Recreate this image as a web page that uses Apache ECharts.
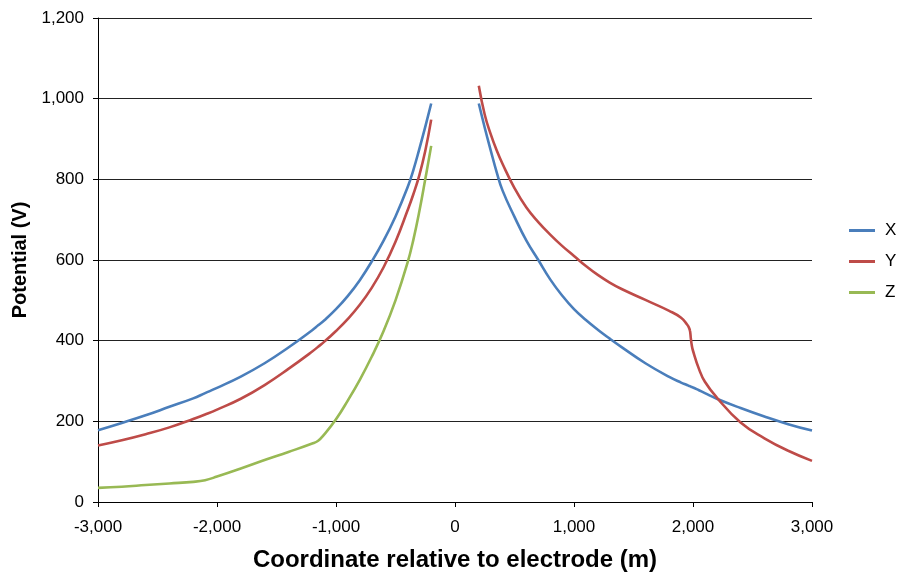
<!DOCTYPE html>
<html lang="en">
<head>
    <meta charset="UTF-8">
    <title>Potential</title>
    <script type="text/javascript" src="https://cdn.jsdelivr.net/npm/echarts@6/dist/echarts.min.js"></script>
    <style>
        body { margin: 0; background: #fff; }
    </style>
</head>
<body>
<div id="main" style="width: 901px;height:579px;"></div>
<script type="text/javascript">
    // sample positions (m), left and right of the electrode
    var xLeft = [-3000, -2800, -2600, -2400, -2200, -2100, -2000, -1800, -1600, -1400, -1200, -1150, -1100,
        -1000, -900, -800, -700, -600, -500, -400, -350, -300, -250, -200];
    var xRight = [200, 250, 300, 350, 400, 500, 600, 700, 800, 900, 1000, 1100, 1200, 1300, 1400, 1600, 1800, 1900,
        1950, 1965, 1975, 1982, 1990, 2000, 2050, 2100, 2200, 2400, 2600, 2800, 3000];

    // potential (V)
    var xLeftV = [178, 196, 215, 236, 257, 270, 283, 311, 344, 383, 426, 438, 450,
        478, 511, 550, 596, 648, 708, 779, 823, 875, 930, 988];
    var xRightV = [988, 928, 872, 818, 772, 707, 648, 600, 552, 512, 478, 451, 427, 405, 384, 344, 310, 296,
        290, 288, 287, 286, 285, 284, 277, 270, 256, 233, 212, 193, 177];
    var yLeftV = [140, 153, 168, 185, 206, 217, 229, 256, 290, 330, 373, 385, 397,
        424, 454, 489, 531, 582, 645, 722, 763, 810, 870, 948];
    var yRightV = [1032, 960, 912, 872, 838, 778, 730, 694, 663, 635, 610, 585, 563, 544, 528, 501, 474, 457,
        440, 433, 424, 405, 388, 375, 330, 298, 259, 197, 158, 127, 102];
    var zLeftV = [35, 38, 42, 46, 50, 54, 63, 83, 104, 124, 145, 152, 167,
        205, 252, 303, 360, 424, 500, 592, 650, 720, 800, 883];

    var names = ['X', 'Y', 'Z'];
    var colors = ['#4a7ebb', '#be4b48', '#98b954'];

    function pairs(xs, vs) {
        var out = [];
        for (var i = 0; i < xs.length; i++) {
            out.push([xs[i], vs[i]]);
        }
        return out;
    }
    // left part, a break, then right part
    function joined(l, r) {
        var d = pairs(xLeft, l);
        if (r) {
            d.push([0, '-']);
            d = d.concat(pairs(xRight, r));
        }
        return d;
    }
    function fmt(v) {
        return Number(v).toLocaleString('en-US');
    }

    var seriesData = [joined(xLeftV, xRightV), joined(yLeftV, yRightV), joined(zLeftV, null)];

    var myChart = echarts.init(document.getElementById('main'));
    var series = [];
    for (var i = 0; i < names.length; i++) {
        series.push({
            name: names[i],
            type: 'line',
            data: seriesData[i],
            showSymbol: false,
            smooth: 0.45,
            connectNulls: false,
            lineStyle: {width: 2.6, color: colors[i]},
            itemStyle: {color: colors[i]}
        });
    }

    myChart.setOption({
        animation: false,
        textStyle: {fontFamily: 'Liberation Sans, Arial, sans-serif'},
        grid: {left: 98, right: 89, top: 18, bottom: 77},
        legend: {
            data: names,
            orient: 'vertical',
            left: 844,
            top: 217,
            itemWidth: 26,
            itemHeight: 3,
            itemGap: 14,
            icon: 'rect',
            textStyle: {fontSize: 17, color: '#000', fontFamily: 'Liberation Sans', padding: [0, 0, 0, 5]}
        },
        xAxis: {
            type: 'value',
            min: -3000,
            max: 3000,
            interval: 1000,
            name: 'Coordinate relative to electrode (m)',
            nameLocation: 'middle',
            nameGap: 46,
            nameTextStyle: {fontSize: 24, fontWeight: 'bold', color: '#000', fontFamily: 'Liberation Sans'},
            axisLine: {lineStyle: {color: '#000', width: 1}},
            axisTick: {show: true, length: 5, lineStyle: {color: '#000'}},
            axisLabel: {fontSize: 17, color: '#000', margin: 17, formatter: fmt},
            splitLine: {show: false}
        },
        yAxis: {
            type: 'value',
            min: 0,
            max: 1200,
            interval: 200,
            name: 'Potential (V)',
            nameLocation: 'middle',
            nameGap: 63,
            nameTextStyle: {fontSize: 20, fontWeight: 'bold', color: '#000', fontFamily: 'Liberation Sans'},
            axisLine: {show: true, onZero: false, lineStyle: {color: '#000', width: 1}},
            axisTick: {show: true, length: 5, lineStyle: {color: '#000'}},
            axisLabel: {fontSize: 17, color: '#000', margin: 14, formatter: fmt},
            splitLine: {show: true, lineStyle: {color: '#222', width: 1}}
        },
        series: series
    });
</script>
</body>
</html>
